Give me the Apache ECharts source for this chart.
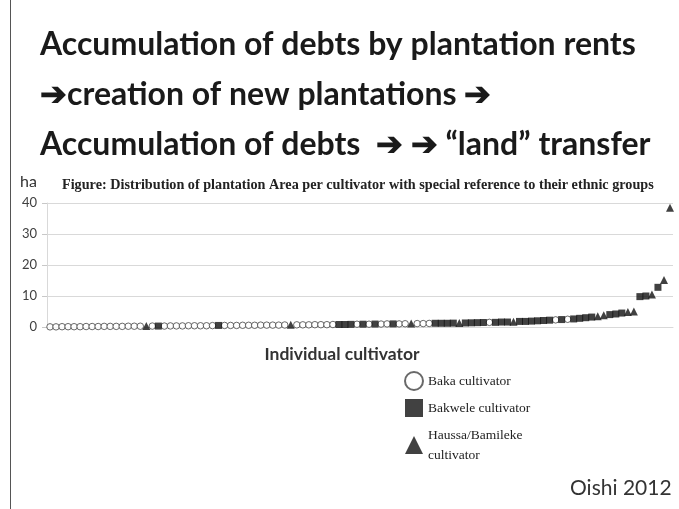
<!DOCTYPE html>
<html>
<head>
<meta charset="utf-8">
<script src="https://cdn.jsdelivr.net/npm/echarts@6/dist/echarts.min.js"></script>
<style>
  html, body { margin: 0; padding: 0; background: #fff; }
  #chart { width: 679px; height: 509px; }
</style>
</head>
<body>
<div id="chart"></div>
<script>
// plantation area (ha) per cultivator, sorted ascending
const areas = [
  0.05, 0.05, 0.1, 0.1, 0.1, 0.1, 0.15, 0.15, 0.15, 0.2, 0.2, 0.2, 0.2, 0.25, 0.25, 0.25,
  0.3, 0.3, 0.3, 0.3, 0.35, 0.35, 0.35, 0.4, 0.4, 0.4, 0.4, 0.45,
  0.5, 0.5, 0.5, 0.5, 0.55, 0.55, 0.55, 0.6, 0.6, 0.6, 0.6, 0.65,
  0.7, 0.7, 0.7, 0.7, 0.75, 0.75, 0.75, 0.8, 0.8, 0.8, 0.85,
  0.9, 0.9, 0.9, 0.95, 0.95, 1.0, 1.0, 1.0, 1.05, 1.1,
  1.1, 1.1, 1.15, 1.2, 1.2, 1.2, 1.25, 1.3, 1.3, 1.35, 1.4, 1.45,
  1.5, 1.5, 1.6, 1.6, 1.7, 1.8, 1.8, 1.9, 2.0, 2.1, 2.2,
  2.3, 2.4, 2.5, 2.6, 2.8, 3.0, 3.2, 3.5, 3.8,
  4.0, 4.2, 4.5, 4.8, 5.0,
  9.8, 10.0, 10.5, 12.8, 15.2, 38.5
];
// ethnic group of each cultivator: B = Baka, K = Bakwele, H = Haussa/Bamileke
const groups = (
  'BBBBBBBBBBBBBBBB' + 'H' + 'B' + 'K' + 'BBBBBBBBB' + 'K' + 'BBBBBBBBBBB' + 'H' +
  'BBBBBBB' + 'KKK' + 'BKBKBBKBB' + 'H' + 'BBB' + 'KKKK' + 'H' + 'KKKK' + 'B' + 'KKK' + 'H' +
  'KKKKKK' + 'B' + 'K' + 'B' + 'KKKK' + 'HH' + 'KKK' + 'HH' + 'KK' + 'H' + 'K' + 'H' + 'H'
).split('');
const categories = areas.map((v, i) => String(i + 1));
const yTicks = [0, 10, 20, 30, 40];
const groupNames = { B: 'Baka cultivator', K: 'Bakwele cultivator', H: 'Haussa/Bamileke\ncultivator' };

function pick(code) {
  return areas.map((v, i) => groups[i] === code ? [categories[i], v] : '-');
}

const chart = echarts.init(document.getElementById('chart'));
const sansFont = 'Lato, "Open Sans", sans-serif';
const option = {
  backgroundColor: '#fff',
  animation: false,
  title: {
    text: 'Figure: Distribution of plantation Area per cultivator with special reference to their ethnic groups',
    left: 62,
    top: 178,
    padding: 0,
    textStyle: { fontFamily: '"Liberation Serif", serif', fontWeight: 'bold', fontSize: 14.2, color: '#222' }
  },
  legend: {
    orient: 'vertical',
    left: 404,
    top: 371,
    padding: 0,
    itemWidth: 18,
    itemHeight: 18,
    itemGap: 7,
    textStyle: { fontFamily: '"Liberation Serif", serif', fontSize: 13.5, color: '#222', lineHeight: 20 },
    data: [
      { name: groupNames.B, icon: 'circle' },
      { name: groupNames.K, icon: 'rect' },
      { name: groupNames.H, icon: 'triangle' }
    ]
  },
  grid: { left: 47, right: 6, top: 203, bottom: 182 },
  xAxis: {
    type: 'category',
    data: categories,
    boundaryGap: true,
    name: 'Individual cultivator',
    nameLocation: 'middle',
    nameGap: 18,
    nameTextStyle: { fontFamily: sansFont, fontWeight: 'bold', fontSize: 17.5, color: '#333', padding: [0, 36, 0, 0] },
    axisLine: { lineStyle: { color: '#d9d9d9' } },
    axisTick: { show: false },
    axisLabel: { show: false },
    splitLine: { show: false }
  },
  yAxis: {
    type: 'value',
    min: yTicks[0],
    max: yTicks[yTicks.length - 1],
    interval: 10,
    name: 'ha',
    nameLocation: 'end',
    nameGap: 21,
    nameTextStyle: { fontFamily: sansFont, fontSize: 16, color: '#333', align: 'right', verticalAlign: 'middle', padding: [0, 10, 0, 0] },
    axisLine: { show: true, lineStyle: { color: '#d9d9d9' } },
    axisTick: { show: true, length: 5, lineStyle: { color: '#c8c8c8' } },
    axisLabel: { margin: 10, fontFamily: sansFont, fontSize: 13, color: '#404040' },
    splitLine: { lineStyle: { color: '#d9d9d9' } }
  },
  series: [
    {
      name: groupNames.B, type: 'scatter', symbol: 'circle', symbolSize: 6.5,
      itemStyle: { color: '#fff', borderColor: '#444', borderWidth: 1 },
      data: pick('B')
    },
    {
      name: groupNames.K, type: 'scatter', symbol: 'rect', symbolSize: 7,
      itemStyle: { color: '#111' },
      data: pick('K')
    },
    {
      name: groupNames.H, type: 'scatter', symbol: 'triangle', symbolSize: 8,
      itemStyle: { color: '#111' },
      data: pick('H')
    }
  ],
  graphic: [
    { type: 'line', shape: { x1: 10.5, y1: 0, x2: 10.5, y2: 509 }, style: { stroke: '#555', lineWidth: 1 } },
    { type: 'text', left: 40, top: 29, style: { text: 'Accumulation of debts by plantation rents', font: 'bold 32px ' + sansFont, fill: '#1a1a1a' } },
    { type: 'text', left: 40, top: 79, style: { text: '\u2794creation of new plantations \u2794', font: 'bold 32px ' + sansFont, fill: '#1a1a1a' } },
    { type: 'text', left: 40, top: 129, style: { text: 'Accumulation of debts  \u2794 \u2794 \u201cland\u201d transfer', font: 'bold 32px ' + sansFont, fill: '#1a1a1a' } },
    { type: 'text', left: 570, top: 478, style: { text: 'Oishi 2012', font: '21px ' + sansFont, fill: '#333' } }
  ]
};
chart.setOption(option);
window.addEventListener('resize', () => { chart.resize(); });
</script>
</body>
</html>
